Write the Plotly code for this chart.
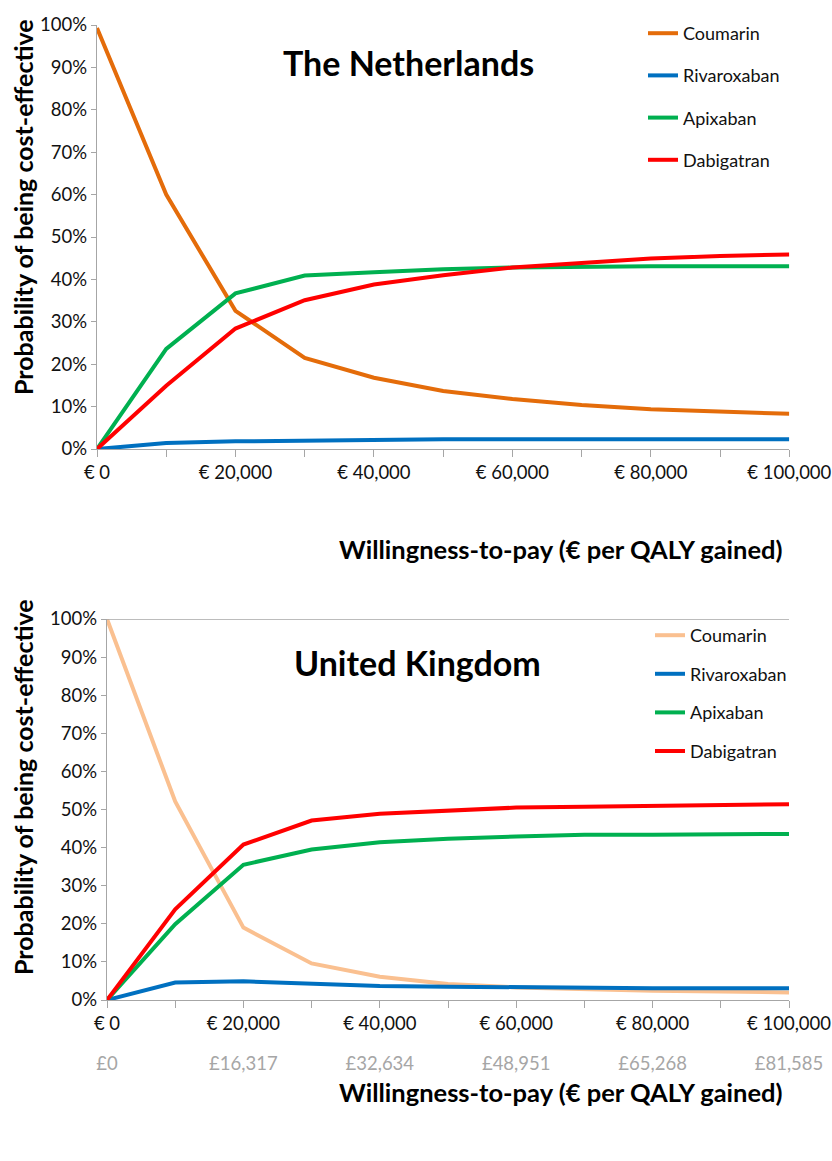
import plotly.graph_objects as go

# ---------------- data ----------------
wtp = [0, 10000, 20000, 30000, 40000, 50000, 60000, 70000, 80000, 90000, 100000]

treatments = ["Coumarin", "Rivaroxaban", "Apixaban", "Dabigatran"]

# The Netherlands
nl_coumarin    = [0.993, 0.600, 0.326, 0.215, 0.168, 0.137, 0.118, 0.104, 0.094, 0.088, 0.083]
nl_rivaroxaban = [0.000, 0.014, 0.018, 0.020, 0.022, 0.023, 0.023, 0.023, 0.023, 0.023, 0.023]
nl_apixaban    = [0.000, 0.236, 0.367, 0.409, 0.417, 0.424, 0.428, 0.430, 0.431, 0.431, 0.431]
nl_dabigatran  = [0.000, 0.149, 0.284, 0.351, 0.388, 0.410, 0.428, 0.438, 0.449, 0.455, 0.459]

# United Kingdom
uk_coumarin    = [1.000, 0.521, 0.190, 0.096, 0.061, 0.042, 0.033, 0.028, 0.024, 0.022, 0.020]
uk_rivaroxaban = [0.000, 0.046, 0.049, 0.044, 0.037, 0.035, 0.033, 0.031, 0.031, 0.031, 0.031]
uk_apixaban    = [0.000, 0.199, 0.355, 0.395, 0.414, 0.423, 0.429, 0.434, 0.434, 0.434, 0.436]
uk_dabigatran  = [0.000, 0.238, 0.408, 0.471, 0.489, 0.496, 0.505, 0.507, 0.510, 0.513, 0.514]

x_tickvals = [0, 20000, 40000, 60000, 80000, 100000]
x_ticktext_eur = ["€ 0", "€ 20,000", "€ 40,000", "€ 60,000", "€ 80,000", "€ 100,000"]
x_ticktext_gbp = ["£0", "£16,317", "£32,634", "£48,951", "£65,268", "£81,585"]
y_tickvals = [0, 0.1, 0.2, 0.3, 0.4, 0.5, 0.6, 0.7, 0.8, 0.9, 1.0]
y_ticktext = ["0%", "10%", "20%", "30%", "40%", "50%", "60%", "70%", "80%", "90%", "100%"]

nl_colors = ["#E46C0A", "#0070C0", "#00B050", "#FF0000"]
uk_colors = ["#FAC090", "#0070C0", "#00B050", "#FF0000"]

# ---------------- layout helpers ----------------
W, H = 832, 1161
FONT = "Lato, 'Open Sans', sans-serif"

def px_x(p):
    return p / W

def px_y(p):
    return 1 - p / H

fig = go.Figure()

nl_series = [nl_coumarin, nl_rivaroxaban, nl_apixaban, nl_dabigatran]
uk_series = [uk_coumarin, uk_rivaroxaban, uk_apixaban, uk_dabigatran]

for name, vals, col in zip(treatments, nl_series, nl_colors):
    fig.add_trace(go.Scatter(x=wtp, y=vals, mode="lines", name=name,
                             line=dict(color=col, width=4),
                             xaxis="x", yaxis="y", legend="legend",
                             legendgroup="nl_" + name))
for name, vals, col in zip(treatments, uk_series, uk_colors):
    fig.add_trace(go.Scatter(x=wtp, y=vals, mode="lines", name=name,
                             line=dict(color=col, width=4),
                             xaxis="x2", yaxis="y2", legend="legend2",
                             legendgroup="uk_" + name))

axis_col = "#A6A6A6"
tickfont = dict(family=FONT, size=18.5, color="#111111")

def xaxis_common(domain, anchor):
    return dict(domain=domain, anchor=anchor, range=[0, 100000],
                tickvals=x_tickvals, ticktext=x_ticktext_eur,
                ticks="outside", ticklen=7, tickcolor=axis_col, tickwidth=1,
                minor=dict(dtick=10000, tick0=0, ticks="outside", ticklen=7,
                           tickcolor=axis_col, tickwidth=1),
                showline=True, linecolor=axis_col, linewidth=1.3,
                showgrid=False, zeroline=False, tickfont=tickfont,
                automargin=False, fixedrange=True)

def yaxis_common(domain, anchor):
    return dict(domain=domain, anchor=anchor, range=[0, 1],
                tickvals=y_tickvals, ticktext=y_ticktext,
                ticks="outside", ticklen=5, tickcolor=axis_col, tickwidth=1,
                showline=True, linecolor=axis_col, linewidth=1.3,
                showgrid=False, zeroline=False, tickfont=tickfont,
                automargin=False, fixedrange=True)

top_x = [px_x(97), px_x(789.3)]
top_y = [px_y(449), px_y(25)]
bot_x = [px_x(107), px_x(789)]
bot_y = [px_y(1000), px_y(619)]

legend_font = dict(family=FONT, size=18, color="#111111")

fig.update_layout(
    width=W, height=H,
    margin=dict(l=0, r=0, t=0, b=0),
    paper_bgcolor="white", plot_bgcolor="white",
    font=dict(family=FONT, color="#111111"),
    xaxis=xaxis_common(top_x, "y"),
    yaxis=yaxis_common(top_y, "x"),
    xaxis2=xaxis_common(bot_x, "y2"),
    yaxis2=yaxis_common(bot_y, "x2"),
    xaxis3=dict(overlaying="x2", anchor="free", position=px_y(1050),
                domain=bot_x, range=[0, 100000], matches="x2",
                tickvals=x_tickvals, ticktext=x_ticktext_gbp,
                ticks="", showline=False, showgrid=False, zeroline=False,
                tickfont=dict(family=FONT, size=18.5, color="#A6A6A6"),
                automargin=False, fixedrange=True),
    legend=dict(x=px_x(643), y=px_y(15), xanchor="left", yanchor="top",
                font=legend_font, bgcolor="rgba(0,0,0,0)",
                tracegroupgap=15.8, traceorder="grouped"),
    legend2=dict(x=px_x(650), y=px_y(617), xanchor="left", yanchor="top",
                 font=legend_font, bgcolor="rgba(0,0,0,0)",
                 tracegroupgap=12.2, traceorder="grouped"),
    showlegend=True,
)

# a dummy trace on xaxis3 so the axis is drawn
fig.add_trace(go.Scatter(x=[0, 100000], y=[None, None], xaxis="x3", yaxis="y2",
                         showlegend=False, hoverinfo="skip"))

# top border of UK chart
fig.add_shape(type="line", xref="x2 domain", yref="y2", x0=0, x1=1, y0=1, y1=1,
              line=dict(color=axis_col, width=1.3))

title_font = dict(family=FONT, size=34, color="#000000")
ylab_font = dict(family=FONT, size=25, color="#000000")
xlab_font = dict(family=FONT, size=25.5, color="#000000")

def ann(text, x, y, font, angle=0):
    fig.add_annotation(text=text, xref="paper", yref="paper",
                       x=px_x(x), y=px_y(y), xanchor="center", yanchor="middle",
                       showarrow=False, textangle=angle, font=font)

ann("<b>The Netherlands</b>", 408, 62, title_font)
ann("<b>United Kingdom</b>", 417, 662, title_font)
ann("<b>Probability of being cost-effective</b>", 23, 207, ylab_font, -90)
ann("<b>Probability of being cost-effective</b>", 23, 787, ylab_font, -90)
ann("<b>Willingness-to-pay (€ per QALY gained)</b>", 561, 549, xlab_font)
ann("<b>Willingness-to-pay (€ per QALY gained)</b>", 561, 1092, xlab_font)

fig.write_html("out.html",
               config={"displayModeBar": False},
               post_script="document.body.style.margin='0';document.body.style.overflow='hidden';")
